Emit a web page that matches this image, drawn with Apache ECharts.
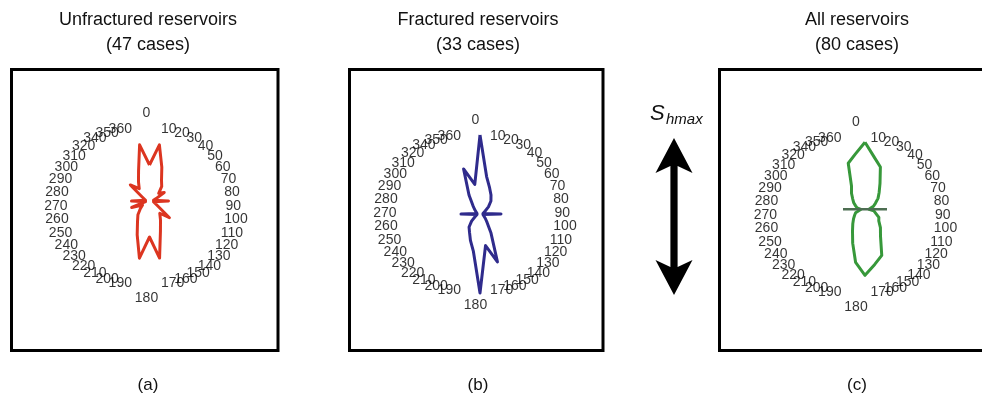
<!DOCTYPE html>
<html><head><meta charset="utf-8">
<script src="https://cdn.jsdelivr.net/npm/echarts@6.0.0/dist/echarts.min.js"></script>
<style>
html,body{margin:0;padding:0;background:#fff;overflow:hidden;width:982px;height:405px}
#main{width:982px;height:405px}
</style>
</head><body><div id="main"></div>
<script>
// ---------- data ----------
const tickAngles = [0,10,20,30,40,50,60,70,80,90,100,110,120,130,140,150,160,170,
  180,190,200,210,220,230,240,250,260,270,280,290,300,310,320,330,340,350];
const angleTickLabels = ['0','10','20','30','40','50','60','70','80','90','100','110','120','130','140','150','160','170',
  '180','190','200','210','220','230','240','250','260','270','280','290','300','310','320','340','350','360'];
const roseAngles = [0,10,20,30,40,50,60,70,80,90,100,110,120,130,140,150,160,170,
  180,190,200,210,220,230,240,250,260,270,280,290,300,310,320,330,340,350];
const unfracturedRose = [36,57,36,24,19,12,17,7,4,19,4,6,9,26,16,22,32,58,
  36,58,36,24,18,12,8,19,4,18,4,6,9,25,16,22,32,57];
const fracturedRose = [79,38,28,22,17,11,6,4,3,21,3,4,5,7,11,22,51,32,
  79,38,28,21,17,11,6,4,3,19,3,4,5,7,11,22,48,30];
const allRose = [67,53,45,30,22,17,12,9,10,4,9,10,16,18,24,31,49,56,
  66,54,36,25,19,15,12,10,9,4,8,10,13,16,21,27,49,56];
const allRoseCrossRadius = [22, 22];
const allRoseCrossAngle = [90, 270];
const panelTitles = ['Unfractured reservoirs\n(47 cases)', 'Fractured reservoirs\n(33 cases)', 'All reservoirs\n(80 cases)'];
const panelTags = ['(a)', '(b)', '(c)'];

// ---------- layout ----------
const labelCenters = [[146.5, 206], [475.5, 213], [856, 215]];
const roseCenters = [[149.5, 201], [480, 214], [865, 209.3]];
const boxes = [[11.5, 69.5, 278, 350.5], [349.5, 69.5, 603, 350.5], [719.5, 69.5, 984, 350.5]];
const titleX = [148, 478, 857];
const colors = ['#dc3520', '#2f2b8c', '#37983a'];
const roseData = [unfracturedRose, fracturedRose, allRose];
const font = '"Liberation Sans", Arial, sans-serif';

const polar = [], angleAxis = [], radiusAxis = [], series = [], graphic = [];
const hiddenAxis = { axisLine: { show: false }, axisTick: { show: false }, splitLine: { show: false }, axisLabel: { show: false } };

function labelPos(a) {
  if (a === 0) return 'top';
  if (a === 180) return 'bottom';
  return a < 180 ? 'right' : 'left';
}

for (let i = 0; i < 3; i++) {
  polar.push({ center: labelCenters[i], radius: 78 });
  angleAxis.push(Object.assign({ polarIndex: i, type: 'value', min: 0, max: 360, startAngle: 90, clockwise: true, show: false }, hiddenAxis));
  radiusAxis.push(Object.assign({ polarIndex: i, type: 'value', min: 0, max: 1, show: false }, hiddenAxis));
  series.push({
    type: 'scatter', coordinateSystem: 'polar', polarIndex: i, silent: true,
    symbol: 'circle', symbolSize: 1, itemStyle: { color: 'rgba(255,255,255,0)' },
    data: tickAngles.map((a, k) => {
      const p = labelPos(a);
      return { value: [1, a], label: { position: p, distance: (p === 'top' || p === 'bottom') ? 7 : 0.5, formatter: angleTickLabels[k] } };
    }),
    label: { show: true, fontSize: 14, color: '#000', fontFamily: font },
    labelLayout: { hideOverlap: false },
    z: 2
  });
}
for (let i = 0; i < 3; i++) {
  polar.push({ center: roseCenters[i], radius: 100 });
  angleAxis.push(Object.assign({ polarIndex: 3 + i, type: 'value', min: 0, max: 360, startAngle: 90, clockwise: true, show: false }, hiddenAxis));
  radiusAxis.push(Object.assign({ polarIndex: 3 + i, type: 'value', min: 0, max: 100, show: false }, hiddenAxis));
  const d = roseAngles.map((a, k) => [roseData[i][k], a]);
  d.push([roseData[i][0], 360]);
  series.push({
    type: 'line', coordinateSystem: 'polar', polarIndex: 3 + i, data: d,
    symbol: 'none', smooth: false, silent: true,
    lineStyle: { color: colors[i], width: 3, join: 'round' }, z: 3
  });
}
series.push({
  type: 'line', coordinateSystem: 'polar', polarIndex: 5,
  data: allRoseCrossRadius.map((r, k) => [r, allRoseCrossAngle[k]]),
  symbol: 'none', silent: true, lineStyle: { color: '#4d6e52', width: 2.5 }, z: 4
});

for (let i = 0; i < 3; i++) {
  const b = boxes[i];
  graphic.push({ type: 'rect', shape: { x: b[0], y: b[1], width: b[2] - b[0], height: b[3] - b[1] },
    style: { fill: 'none', stroke: '#000', lineWidth: 3 }, silent: true });
  graphic.push({ type: 'text', x: titleX[i], y: 33, style: { text: panelTitles[i], fontSize: 18, lineHeight: 25,
    fontFamily: font, fill: '#111', align: 'center', verticalAlign: 'middle' }, silent: true });
  graphic.push({ type: 'text', x: titleX[i], y: 385, style: { text: panelTags[i], fontSize: 17,
    fontFamily: font, fill: '#111', align: 'center', verticalAlign: 'middle' }, silent: true });
}
// S_hmax double arrow
const ax = 674, hw = 18.5, sw = 3.6;
graphic.push({ type: 'polygon', silent: true, shape: { points: [
  [ax, 138], [ax + hw, 173], [ax + sw, 166], [ax + sw, 267], [ax + hw, 260], [ax, 295],
  [ax - hw, 260], [ax - sw, 267], [ax - sw, 166], [ax - hw, 173]] }, style: { fill: '#000' } });
graphic.push({ type: 'text', x: 650, y: 114, silent: true, style: { text: 'S', fontSize: 22, fontStyle: 'italic',
  fontFamily: font, fill: '#111', align: 'left', verticalAlign: 'middle' } });
graphic.push({ type: 'text', x: 666, y: 120, silent: true, style: { text: 'hmax', fontSize: 15, fontStyle: 'italic',
  fontFamily: font, fill: '#111', align: 'left', verticalAlign: 'middle' } });

const chart = echarts.init(document.getElementById('main'), null, { renderer: 'canvas' });
chart.setOption({
  animation: false, backgroundColor: '#fff',
  polar, angleAxis, radiusAxis, series, graphic
});
</script>
</body></html>
